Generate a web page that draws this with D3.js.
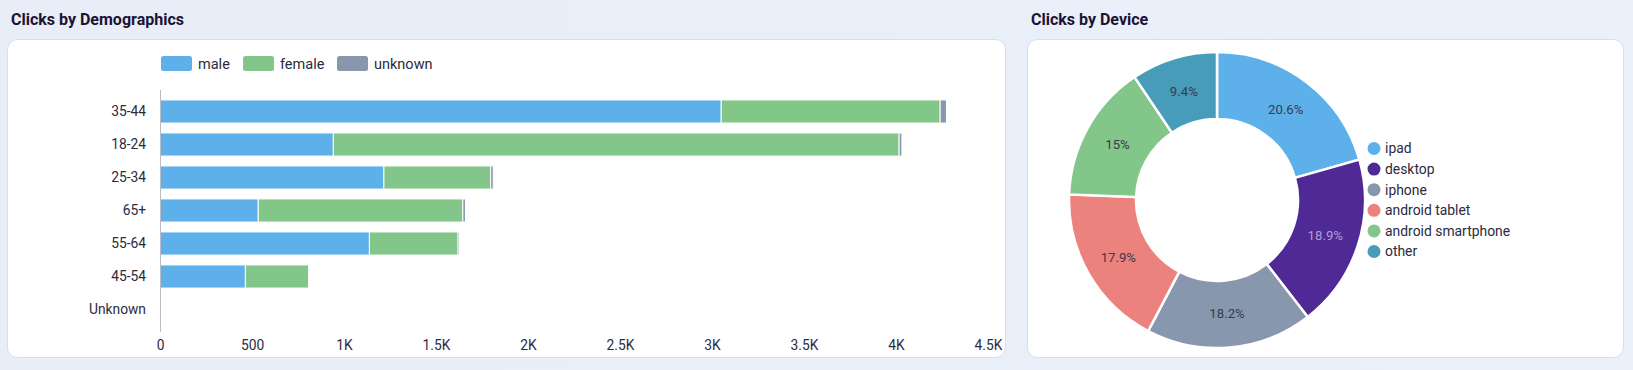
<!DOCTYPE html>
<html><head><meta charset="utf-8">
<script src="https://cdn.jsdelivr.net/npm/d3@7"></script>
<style>
html,body{margin:0;padding:0;background:linear-gradient(90deg,#e8edf7,#eaf1fa);}
svg{display:block;font-family:Roboto,"Noto Sans",sans-serif;}
</style></head>
<body>
<svg id="c" width="1633" height="370"></svg>
<script>
// Demographics (stacked bars)
const categories = ["35-44","18-24","25-34","65+","55-64","45-54","Unknown"];
const male =    [3050, 942, 1217, 534, 1138, 464, 0];
const female =  [1190, 3075, 580, 1112, 482, 344, 0];
const unknown = [34, 15, 14, 14, 8, 2, 0];
const seriesKeys = ["male","female","unknown"];
const xTicks = [0,500,1000,1500,2000,2500,3000,3500,4000,4500];
const xTickLabels = ["0","500","1K","1.5K","2K","2.5K","3K","3.5K","4K","4.5K"];

// Device (donut)
const devices = ["ipad","desktop","iphone","android tablet","android smartphone","other"];
const deviceShare = [20.6, 18.9, 18.2, 17.9, 15, 9.4];

const barColors = {male:"#5eb0ea", female:"#82c68a", unknown:"#8798ae"};
const devColors = ["#5eb0ea","#4f2a96","#8798ae","#ec827d","#82c68a","#469cb9"];
const textCol = "#2b2b40";

const svg = d3.select("#c");

// titles
svg.append("text").attr("x",11).attr("y",25).text("Clicks by Demographics")
  .attr("font-size",16).attr("font-weight",700).attr("fill","#1c1235");
svg.append("text").attr("x",1031).attr("y",25).text("Clicks by Device")
  .attr("font-size",16).attr("font-weight",700).attr("fill","#1c1235");

// cards
svg.append("rect").attr("x",7.5).attr("y",39.5).attr("width",998).attr("height",318)
  .attr("rx",10).attr("fill","#fff").attr("stroke","#d3dfee");
svg.append("rect").attr("x",1027.5).attr("y",39.5).attr("width",596).attr("height",318)
  .attr("rx",10).attr("fill","#fff").attr("stroke","#d3dfee");

// ---- bar chart
const data = categories.map((c,i)=>({cat:c, male:male[i], female:female[i], unknown:unknown[i]}));
const x = d3.scaleLinear().domain([0,4500]).range([160,988]);
const y = d3.scaleBand().domain(categories).range([95,326]).paddingInner(0.3).paddingOuter(0.15);
const stack = d3.stack().keys(seriesKeys)(data);

const g = svg.append("g");
g.selectAll("g.s").data(stack).join("g").attr("fill",d=>barColors[d.key])
  .selectAll("rect").data(d=>d).join("rect")
  .attr("x",d=>x(d[0])).attr("y",d=>y(d.data.cat))
  .attr("width",d=>Math.max(0,x(d[1])-x(d[0])))
  .attr("height",y.bandwidth())
  .attr("stroke","#fff").attr("stroke-width",1);

// y axis
const yAx = g.append("g").attr("transform","translate(160,0)")
  .call(d3.axisLeft(y).tickSize(0).tickPadding(14));
yAx.select(".domain").remove();
yAx.selectAll("text").attr("font-size",13.8).attr("fill",textCol).attr("font-family","Roboto");
g.append("line").attr("x1",160.5).attr("x2",160.5).attr("y1",90).attr("y2",332)
  .attr("stroke","#b9bcc4").attr("stroke-width",1);

// x axis
const xAx = g.append("g").attr("transform","translate(0,337)")
  .call(d3.axisBottom(x).tickValues(xTicks).tickFormat((d,i)=>xTickLabels[i]).tickSize(0).tickPadding(3));
xAx.select(".domain").remove();
xAx.selectAll("text").attr("font-size",13.8).attr("fill",textCol).attr("font-family","Roboto");

// bar legend
const legX = [161, 243, 337];
const lg = svg.append("g").selectAll("g").data(seriesKeys).join("g")
  .attr("transform",(d,i)=>`translate(${legX[i]},56)`);
lg.append("rect").attr("width",31).attr("height",15).attr("rx",2.5).attr("fill",d=>barColors[d]);
lg.append("text").attr("x",37).attr("y",12.5).text(d=>d)
  .attr("font-size",14.5).attr("fill",textCol);

// ---- donut
const cx = 1217, cy = 200;
const pie = d3.pie().sort(null).value(d=>d)(deviceShare);
const arc = d3.arc().innerRadius(81).outerRadius(148);
const labelArc = d3.arc().innerRadius(114).outerRadius(114);
const dg = svg.append("g").attr("transform",`translate(${cx},${cy})`);
dg.selectAll("path").data(pie).join("path").attr("d",arc)
  .attr("fill",(d,i)=>devColors[i]).attr("stroke","#fff").attr("stroke-width",2.5);
dg.selectAll("text").data(pie).join("text")
  .attr("transform",d=>`translate(${labelArc.centroid(d)})`)
  .attr("text-anchor","middle").attr("dy","0.35em")
  .attr("font-size",13.2).attr("fill",(d,i)=>i===1?"#ab9fd2":"#3a3a4c")
  .text((d,i)=>deviceShare[i]+"%");

// donut legend
const dl = svg.append("g").selectAll("g").data(devices).join("g")
  .attr("transform",(d,i)=>`translate(1374,${148.5+i*20.6})`);
dl.append("circle").attr("r",6.5).attr("fill",(d,i)=>devColors[i]);
dl.append("text").attr("x",11).attr("dy","0.35em").text(d=>d)
  .attr("font-size",13.9).attr("fill",textCol);
</script>
</body></html>
